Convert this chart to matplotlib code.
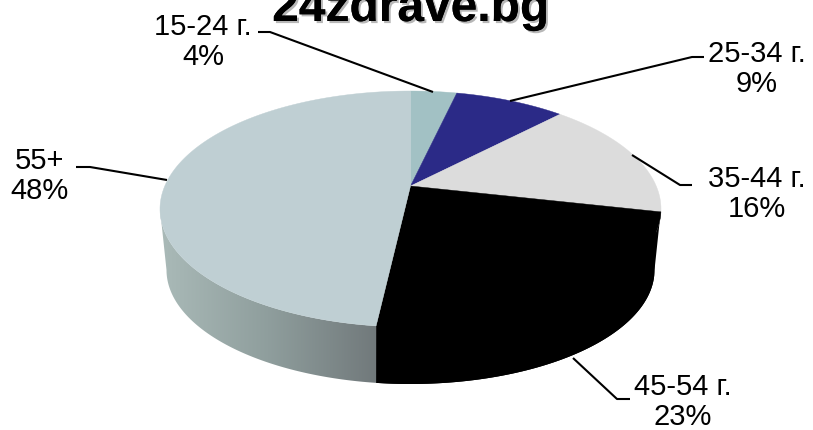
import numpy as np
import matplotlib
matplotlib.use("Agg")
import matplotlib.pyplot as plt
from matplotlib.patches import Polygon
from matplotlib.colors import LinearSegmentedColormap
import matplotlib.patheffects as pe

title = "24zdrave.bg"
categories = ["15-24 г.", "25-34 г.", "35-44 г.", "45-54 г.", "55+"]
values = [3.6, 8.6, 16.3, 23.3, 48.2]
colors = ["#a2c1c4", "#2b2a87", "#dcdcdc", "#000000", "#bfcfd3"]

plt.rcParams["font.family"] = ["Liberation Sans", "DejaVu Sans"]

# geometry of the tilted pie (pixel space)
CX, CY, RX, RY = 410.5, 209.0, 250.5, 118.0
BCY, BRX, BRY = 270.0, 244.0, 114.0
APEX_Y = 186.0
a = (CY - APEX_Y) / RY

fig = plt.figure(figsize=(8.13, 4.30), dpi=100)
ax = fig.add_axes([0, 0, 1, 1])
ax.set_xlim(0, 813)
ax.set_ylim(430, 0)
ax.axis("off")


def rim(theta):
    """Perspective projection of a clockwise-from-top pie angle (radians)."""
    x, y = np.sin(theta), np.cos(theta)
    d = 1 + a * y
    return CX + RX * x * np.sqrt(1 - a * a) / d, CY - RY * (y + a) / d


cum = np.concatenate([[0], np.cumsum(values)]) / np.sum(values) * 2 * np.pi

for i, c in enumerate(colors):
    th = np.linspace(cum[i], cum[i + 1], 200)
    xs, ys = rim(th)
    pts = np.column_stack([np.r_[CX, xs], np.r_[APEX_Y, ys]])
    ax.add_patch(Polygon(pts, closed=True, fc=c, ec=c, lw=0.3, zorder=3))

# side wall: from the right extreme of the rim round to the left extreme
x_end, y_end = rim(cum[4])
t_end = np.pi - np.arcsin((x_end - CX) / RX)
t_end_b = np.pi - np.arcsin((x_end - CX) / BRX)


def wall(t0, t1, b0, b1, inset=0.0):
    t = np.linspace(t0, t1, 200)
    b = np.linspace(b0, b1, 200)
    xt, yt = CX + (RX - inset) * np.sin(t), CY - (RY - inset) * np.cos(t)
    xb, yb = CX + BRX * np.sin(b), BCY - BRY * np.cos(b)
    return np.column_stack([np.r_[xt, xb[::-1]], np.r_[yt, yb[::-1]]])


ax.add_patch(Polygon(wall(np.pi / 2, t_end, np.pi / 2, t_end_b), closed=True,
                     fc="#000000", ec="none", zorder=2))
# hidden overlap under the top face so no seam shows along the black rim
ax.add_patch(Polygon(wall(np.pi / 2 + 0.05, t_end, np.pi / 2 + 0.05, t_end_b, inset=4), closed=True,
                     fc="#000000", ec="none", zorder=2))
wall_left = Polygon(wall(t_end, 1.5 * np.pi, t_end_b, 1.5 * np.pi), closed=True,
                    fc="none", ec="none", zorder=2)
ax.add_patch(wall_left)
cmap = LinearSegmentedColormap.from_list("w", ["#aabab8", "#8f9e9d", "#71797b"])
im = ax.imshow(np.linspace(0, 1, 256)[None, :], cmap=cmap, aspect="auto",
               extent=(160, x_end, 390, 200), zorder=2)
im.set_clip_path(wall_left)
ax.set_xlim(0, 813)
ax.set_ylim(430, 0)

# leader lines
leaders = [
    [(258, 32), (270, 32), (433, 92)],
    [(704, 57), (692, 57), (510, 101)],
    [(692, 185), (680, 185), (632, 155)],
    [(630, 399), (617, 399), (573, 358)],
    [(76, 167), (90, 167), (167, 180)],
]
for ln in leaders:
    xs, ys = zip(*ln)
    ax.plot(xs, ys, color="black", lw=1.5, zorder=4, solid_capstyle="butt")

# labels
label_pos = [(203, 42), (757, 69), (757, 194), (683, 402), (39, 176)]
for cat, v, (x, y) in zip(categories, values, label_pos):
    ax.text(x, y, f"{cat}\n{v:.0f}%", ha="center", va="center", fontsize=21,
            color="black", linespacing=1.13, zorder=5)

ax.text(410.5, 21, title, ha="center", va="baseline", fontsize=34.5, fontweight="bold",
        color="black", zorder=6,
        path_effects=[pe.withSimplePatchShadow(offset=(1.5, -1.5), shadow_rgbFace="#888888", alpha=0.6),
                      pe.Normal()])

fig.savefig("out.png", dpi=100)
